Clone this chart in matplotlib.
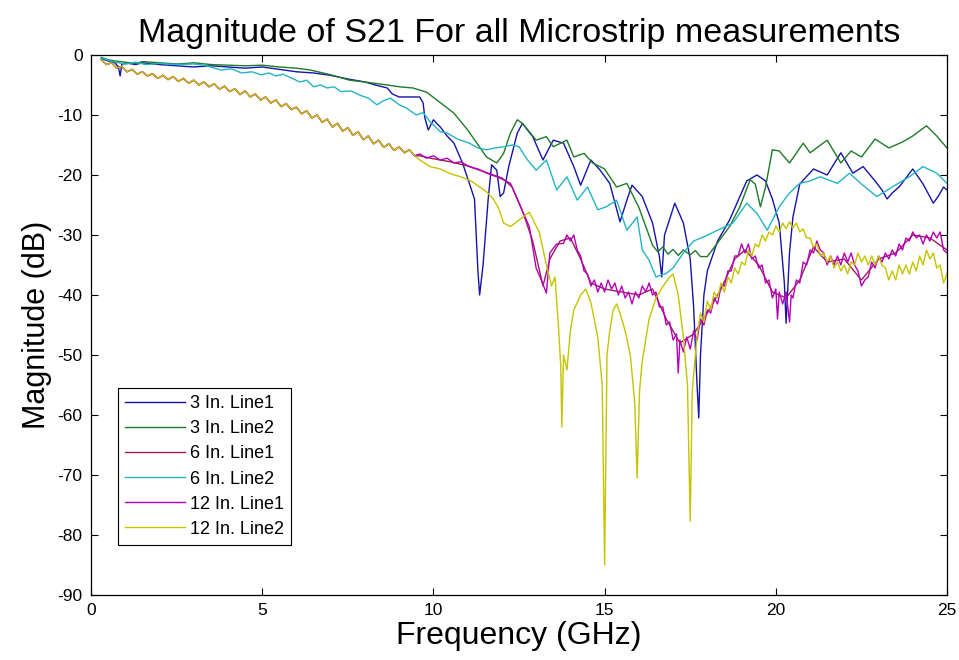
import numpy as np
import matplotlib
matplotlib.use("Agg")
import matplotlib.pyplot as plt

plt.rcParams['font.family'] = ['Liberation Sans', 'DejaVu Sans']
plt.rcParams['axes.unicode_minus'] = False

title = "Magnitude of S21 For all Microstrip measurements"
x_label = "Frequency (GHz)"
y_label = "Magnitude (dB)"
x_ticks = [0, 5, 10, 15, 20, 25]
y_ticks = [0, -10, -20, -30, -40, -50, -60, -70, -80, -90]
labels = ["3 In. Line1", "3 In. Line2", "6 In. Line1", "6 In. Line2", "12 In. Line1", "12 In. Line2"]
colors = ["#1414a8", "#1f7a28", "#9a1c5c", "#22b4c4", "#b800b8", "#c4c400"]

# (GHz, dB) pairs
line_3in_1 = [(0.3, -0.6), (0.5, -1.0), (0.7, -1.3), (0.8, -2.0), (0.85, -3.5), (0.9, -1.5), (1.1, -1.4),
              (1.3, -1.6), (1.5, -1.3), (1.7, -1.4), (2.0, -1.6), (2.5, -1.8), (3.0, -2.0), (3.5, -1.8),
              (4.0, -2.0), (4.5, -2.2), (5.0, -2.0), (5.5, -2.4), (6.0, -2.8), (6.5, -3.0), (7.0, -3.4),
              (7.5, -4.0), (8.0, -4.5), (8.3, -5.0), (8.65, -5.5), (8.8, -6.5), (9.0, -7.0), (9.3, -7.0),
              (9.6, -7.0), (9.7, -8.0), (9.75, -10.5), (9.85, -12.5), (10.0, -10.8), (10.2, -12.0),
              (10.4, -13.5), (10.6, -14.7), (10.85, -18.0), (11.05, -21.4), (11.2, -24.0), (11.3, -36.0),
              (11.35, -40.0), (11.45, -35.0), (11.6, -24.0), (11.7, -18.3), (11.85, -19.2), (11.95, -23.6),
              (12.05, -23.0), (12.2, -18.6), (12.45, -13.0), (12.6, -11.4), (12.9, -13.6), (13.2, -17.5),
              (13.5, -14.2), (13.8, -14.7), (14.1, -18.6), (14.3, -21.7), (14.6, -17.5), (14.87, -19.2),
              (15.15, -21.4), (15.45, -27.8), (15.65, -24.2), (15.8, -21.7), (16.1, -23.6), (16.4, -28.0),
              (16.6, -33.6), (16.67, -37.0), (16.75, -30.0), (17.05, -24.7), (17.3, -28.0), (17.5, -34.0),
              (17.6, -42.0), (17.7, -55.0), (17.75, -60.5), (17.8, -50.0), (17.9, -40.0), (18.0, -36.0),
              (18.3, -31.0), (18.65, -27.5), (19.15, -21.0), (19.45, -20.0), (19.7, -21.0), (19.9, -24.0),
              (20.1, -28.0), (20.25, -38.0), (20.3, -44.7), (20.4, -33.0), (20.5, -27.0), (20.7, -21.5),
              (21.1, -19.0), (21.5, -20.0), (21.9, -16.3), (22.25, -19.7), (22.55, -18.6), (22.9, -21.0),
              (23.1, -22.5), (23.25, -24.0), (23.4, -23.0), (23.6, -22.0), (24.0, -19.0), (24.3, -21.5),
              (24.6, -24.7), (24.75, -23.5), (24.9, -22.0), (25.0, -22.5)]

line_3in_2 = [(0.3, -0.4), (0.5, -0.8), (0.7, -1.0), (1.0, -1.2), (1.3, -1.4), (1.5, -1.1), (1.75, -1.2),
              (2.0, -1.3), (2.5, -1.5), (2.8, -1.4), (3.0, -1.3), (3.5, -1.6), (4.0, -1.7), (4.5, -1.8),
              (5.0, -1.7), (5.5, -2.0), (6.0, -2.2), (6.4, -2.5), (7.0, -3.3), (7.55, -4.2), (8.0, -4.5),
              (8.65, -5.0), (9.0, -5.3), (9.4, -5.5), (9.8, -6.2), (10.1, -7.5), (10.6, -9.7), (11.0, -12.5),
              (11.27, -14.7), (11.55, -17.0), (11.85, -18.0), (12.05, -16.4), (12.25, -13.0), (12.45, -10.8),
              (12.6, -11.4), (13.0, -14.2), (13.3, -13.6), (13.5, -15.3), (13.9, -14.2), (14.1, -17.0),
              (14.4, -16.4), (14.65, -18.0), (15.0, -19.0), (15.35, -22.0), (15.65, -21.4), (16.0, -25.4),
              (16.4, -31.7), (16.55, -32.8), (16.7, -32.0), (16.85, -33.2), (17.0, -32.4), (17.15, -33.4),
              (17.3, -32.5), (17.5, -33.3), (17.65, -32.6), (17.8, -33.6), (18.0, -33.6), (18.3, -31.3),
              (18.65, -28.6), (18.95, -25.3), (19.25, -20.8), (19.4, -21.5), (19.55, -25.3), (19.7, -22.0),
              (19.9, -15.8), (20.1, -16.0), (20.4, -18.0), (20.8, -14.7), (21.0, -16.3), (21.5, -14.2),
              (21.9, -18.0), (22.2, -16.0), (22.5, -17.0), (22.9, -14.0), (23.3, -15.5), (23.7, -14.5),
              (24.0, -13.5), (24.4, -11.8), (24.7, -13.5), (25.0, -15.5)]

line_6in_2 = [(0.3, -0.5), (0.5, -0.9), (0.8, -1.3), (1.0, -1.5), (1.3, -1.2), (1.6, -1.6), (2.0, -1.4),
              (2.5, -1.6), (3.0, -1.5), (3.3, -1.7), (3.8, -2.5), (4.1, -2.3), (4.4, -3.0), (4.7, -2.8),
              (4.97, -3.3), (5.2, -3.0), (5.4, -3.5), (5.6, -3.2), (5.8, -3.7), (6.1, -4.5), (6.3, -4.2),
              (6.5, -5.3), (6.7, -5.0), (6.9, -5.5), (7.1, -5.3), (7.3, -6.1), (7.6, -6.0), (7.85, -6.7),
              (8.1, -7.2), (8.35, -8.3), (8.55, -7.6), (8.75, -7.2), (9.0, -8.3), (9.2, -8.8), (9.5, -10.0),
              (9.7, -9.6), (9.9, -11.1), (10.2, -12.8), (10.4, -13.0), (10.7, -14.0), (11.05, -14.7),
              (11.3, -15.5), (11.55, -15.8), (11.8, -15.5), (12.05, -15.3), (12.3, -15.0), (12.5, -15.3),
              (12.75, -17.5), (13.0, -19.2), (13.3, -17.5), (13.6, -22.5), (13.9, -20.3), (14.2, -24.2),
              (14.5, -22.0), (14.8, -25.8), (15.05, -25.3), (15.35, -24.2), (15.65, -29.2), (15.95, -27.0),
              (16.1, -32.5), (16.3, -34.2), (16.5, -37.0), (16.8, -36.4), (17.0, -35.5), (17.3, -33.0),
              (17.6, -31.0), (17.9, -30.3), (18.3, -29.2), (18.75, -28.0), (19.15, -24.7), (19.45, -26.4),
              (19.75, -29.2), (20.1, -25.3), (20.4, -23.0), (20.7, -21.4), (21.0, -21.0), (21.3, -20.3),
              (21.8, -21.4), (22.15, -19.7), (22.5, -21.5), (22.95, -23.6), (23.4, -22.0), (23.9, -20.3),
              (24.3, -18.6), (24.7, -19.7), (25.0, -21.4)]

# rippled low-frequency path shared by the 6 In. Line1, 12 In. Line1 and 12 In. Line2 traces
wave_lowfreq = [(0.30, -0.8), (0.45, -1.6), (0.60, -1.3), (0.75, -2.2), (0.90, -1.9), (1.05, -2.8),
                (1.20, -2.4), (1.35, -3.2), (1.50, -2.8), (1.65, -3.5), (1.80, -3.1), (1.95, -3.9),
                (2.10, -3.4), (2.25, -4.1), (2.40, -3.6), (2.55, -4.4), (2.70, -3.9), (2.85, -4.7),
                (3.00, -4.2), (3.15, -5.0), (3.30, -4.5), (3.45, -5.3), (3.60, -4.8), (3.75, -5.7),
                (3.90, -5.2), (4.05, -6.1), (4.20, -5.6), (4.35, -6.6), (4.50, -6.0), (4.65, -7.0),
                (4.80, -6.5), (4.95, -7.5), (5.10, -7.0), (5.25, -8.0), (5.40, -7.5), (5.55, -8.6),
                (5.70, -8.1), (5.85, -9.1), (6.00, -8.7), (6.15, -9.8), (6.30, -9.3), (6.45, -10.5),
                (6.60, -10.0), (6.75, -11.2), (6.90, -10.7), (7.05, -12.0), (7.20, -11.4), (7.35, -12.7),
                (7.50, -12.1), (7.65, -13.4), (7.80, -12.8), (7.95, -14.1), (8.10, -13.5), (8.25, -14.8),
                (8.40, -14.2), (8.55, -15.4), (8.70, -14.8), (8.85, -15.9), (9.00, -15.3), (9.15, -16.3),
                (9.30, -15.8), (9.45, -16.8)]

tail_6in_1 = [(9.6, -16.8), (10.0, -17.3), (10.5, -17.8), (11.0, -18.5), (11.5, -19.5), (12.0, -20.5),
              (12.3, -22.0), (12.6, -26.0), (12.9, -31.0), (13.2, -38.5), (13.4, -34.0), (13.7, -31.0),
              (14.0, -30.5), (14.3, -34.0), (14.6, -38.0), (15.0, -39.0), (15.5, -39.5), (16.0, -40.0),
              (16.4, -39.0), (16.8, -44.0), (17.2, -48.0), (17.6, -46.5), (18.0, -43.0), (18.4, -39.0),
              (18.8, -34.0), (19.1, -32.5), (19.5, -35.0), (19.9, -39.5), (20.3, -40.5), (20.7, -37.5),
              (21.1, -32.0), (21.5, -34.5), (22.0, -34.0), (22.5, -37.5), (23.0, -34.0), (23.5, -33.0),
              (24.0, -30.0), (24.5, -30.5), (25.0, -32.5)]

tail_12in_1 = [(9.6, -16.5), (9.8, -17.2), (10.0, -16.8), (10.2, -17.5), (10.4, -17.2), (10.6, -18.0),
               (10.8, -17.8), (11.05, -18.6), (11.3, -19.0), (11.6, -19.8), (11.85, -20.3), (12.05, -20.8),
               (12.25, -21.4), (12.5, -24.7), (12.8, -28.6), (13.0, -35.5), (13.15, -37.5), (13.3, -39.7),
               (13.4, -33.0), (13.6, -31.5), (13.8, -31.4), (13.9, -30.0), (14.0, -31.0), (14.1, -30.0),
               (14.2, -32.5), (14.3, -33.5), (14.4, -36.0), (14.5, -36.5), (14.6, -38.5), (14.7, -37.5),
               (14.8, -39.5), (14.9, -38.0), (15.0, -39.5), (15.1, -37.5), (15.2, -39.0), (15.3, -38.0),
               (15.4, -40.0), (15.5, -38.5), (15.6, -40.5), (15.7, -39.5), (15.8, -41.5), (15.9, -39.5),
               (16.0, -40.5), (16.1, -38.5), (16.2, -39.5), (16.3, -38.0), (16.4, -40.0), (16.5, -39.5),
               (16.6, -42.0), (16.7, -42.0), (16.8, -45.0), (16.9, -44.5), (17.0, -47.5), (17.1, -46.5),
               (17.15, -53.0), (17.2, -47.5), (17.3, -49.5), (17.4, -47.0), (17.5, -49.0), (17.6, -46.0),
               (17.7, -47.5), (17.8, -44.0), (17.9, -45.0), (18.0, -42.5), (18.1, -43.0), (18.2, -40.5),
               (18.3, -41.5), (18.4, -38.5), (18.5, -38.5), (18.6, -36.0), (18.7, -36.0), (18.8, -33.5),
               (18.9, -33.5), (19.0, -31.5), (19.1, -33.0), (19.2, -31.5), (19.3, -34.0), (19.4, -33.5),
               (19.5, -35.5), (19.6, -35.0), (19.7, -38.0), (19.8, -37.5), (19.9, -40.5), (20.0, -39.0),
               (20.05, -44.0), (20.1, -39.5), (20.2, -41.5), (20.3, -39.5), (20.4, -44.5), (20.45, -40.0),
               (20.5, -40.5), (20.6, -37.5), (20.7, -38.0), (20.8, -34.5), (20.9, -35.0), (21.0, -32.5),
               (21.1, -33.0), (21.2, -31.0), (21.3, -32.5), (21.4, -33.0), (21.5, -35.0), (21.6, -33.5),
               (21.7, -35.0), (21.8, -33.5), (21.9, -35.0), (22.0, -33.0), (22.1, -34.5), (22.2, -33.0),
               (22.3, -35.0), (22.4, -36.0), (22.5, -38.5), (22.6, -37.5), (22.7, -37.0), (22.8, -34.5),
               (22.9, -35.5), (23.0, -33.5), (23.1, -34.5), (23.2, -33.0), (23.3, -34.0), (23.4, -32.5),
               (23.5, -33.5), (23.6, -31.5), (23.7, -32.5), (23.8, -30.5), (23.9, -31.0), (24.0, -29.5),
               (24.1, -30.5), (24.2, -30.0), (24.3, -31.5), (24.4, -30.0), (24.5, -31.0), (24.6, -29.5),
               (24.7, -30.5), (24.8, -29.5), (24.9, -32.5), (25.0, -33.0)]

tail_12in_2 = [(9.6, -17.5), (9.9, -18.6), (10.2, -19.0), (10.5, -19.8), (10.8, -20.3), (11.1, -21.0),
               (11.35, -22.0), (11.55, -22.8), (11.75, -24.0), (11.9, -25.5), (12.05, -28.0), (12.25, -28.6),
               (12.5, -27.5), (12.8, -26.2), (13.0, -28.5), (13.1, -29.7), (13.3, -35.0), (13.45, -38.5),
               (13.55, -37.0), (13.65, -45.0), (13.72, -52.0), (13.75, -62.0), (13.8, -50.0), (13.9, -52.5),
               (14.0, -46.0), (14.1, -42.5), (14.3, -40.0), (14.45, -39.0), (14.6, -41.3), (14.8, -47.0),
               (14.93, -55.0), (15.0, -85.0), (15.07, -50.0), (15.15, -46.0), (15.25, -42.5), (15.35, -41.5),
               (15.45, -43.0), (15.6, -46.0), (15.75, -50.0), (15.88, -58.0), (15.95, -70.5), (16.02, -56.0),
               (16.1, -51.0), (16.3, -44.0), (16.5, -40.5), (16.7, -38.6), (16.9, -37.0), (17.0, -36.5),
               (17.15, -40.0), (17.3, -47.0), (17.42, -55.0), (17.5, -77.7), (17.56, -56.0), (17.65, -50.0),
               (17.7, -47.0), (17.8, -43.0), (17.9, -44.5), (18.0, -41.0), (18.1, -42.5), (18.2, -39.5),
               (18.3, -40.5), (18.4, -38.0), (18.5, -39.5), (18.6, -37.0), (18.7, -38.0), (18.8, -35.5),
               (18.9, -36.5), (19.0, -34.5), (19.1, -35.0), (19.2, -32.5), (19.3, -33.5), (19.4, -31.5),
               (19.5, -32.0), (19.6, -30.0), (19.7, -31.0), (19.8, -29.5), (19.9, -30.0), (20.0, -28.5),
               (20.1, -29.5), (20.2, -28.0), (20.3, -29.0), (20.4, -27.8), (20.5, -28.8), (20.6, -28.0),
               (20.7, -29.5), (20.8, -29.0), (20.9, -30.5), (21.0, -30.5), (21.1, -32.0), (21.2, -31.5),
               (21.3, -33.5), (21.4, -33.0), (21.5, -34.5), (21.6, -33.5), (21.7, -35.5), (21.8, -34.5),
               (21.9, -36.0), (22.0, -35.0), (22.1, -36.5), (22.2, -34.5), (22.3, -35.0), (22.4, -33.0),
               (22.5, -34.5), (22.6, -33.5), (22.7, -35.0), (22.8, -33.5), (22.9, -35.0), (23.0, -33.5),
               (23.1, -35.0), (23.2, -35.5), (23.3, -37.5), (23.4, -36.0), (23.5, -37.5), (23.6, -35.0),
               (23.7, -36.5), (23.8, -35.0), (23.9, -36.5), (24.0, -34.5), (24.1, -36.0), (24.2, -33.5),
               (24.3, -35.0), (24.4, -32.5), (24.5, -34.0), (24.6, -33.0), (24.7, -35.5), (24.8, -35.0),
               (24.9, -38.0), (25.0, -36.5)]

series = [line_3in_1, line_3in_2, wave_lowfreq + tail_6in_1, line_6in_2,
          wave_lowfreq + tail_12in_1, wave_lowfreq + tail_12in_2]

fig = plt.figure(figsize=(9.59, 6.60), dpi=100)
ax = fig.add_axes([0.0949, 0.0985, 0.8926, 0.8182])

for pts, lab, col in zip(series, labels, colors):
    arr = np.array(pts)
    ax.plot(arr[:, 0], arr[:, 1], color=col, lw=1.0, label=lab)

ax.set_xlim(0, 25)
ax.set_ylim(-90, 0)
ax.set_xticks(x_ticks)
ax.set_yticks(y_ticks)
ax.tick_params(direction='in', top=True, right=True, labelsize=12.5, length=5, width=0.8, pad=6)
for s in ax.spines.values():
    s.set_linewidth(0.9)

ax.set_title(title, fontsize=24.5, pad=9)
ax.set_xlabel(x_label, fontsize=23, labelpad=2)
ax.set_ylabel(y_label, fontsize=22, labelpad=4)

leg = ax.legend(loc='lower left', bbox_to_anchor=(0.0315, 0.0926), fontsize=13, fancybox=False,
                edgecolor='black', framealpha=1, handlelength=3.3, borderaxespad=0,
                labelspacing=0.45, handletextpad=0.3, borderpad=0.4)
leg.get_frame().set_linewidth(0.8)

fig.savefig("out.png", dpi=100)
